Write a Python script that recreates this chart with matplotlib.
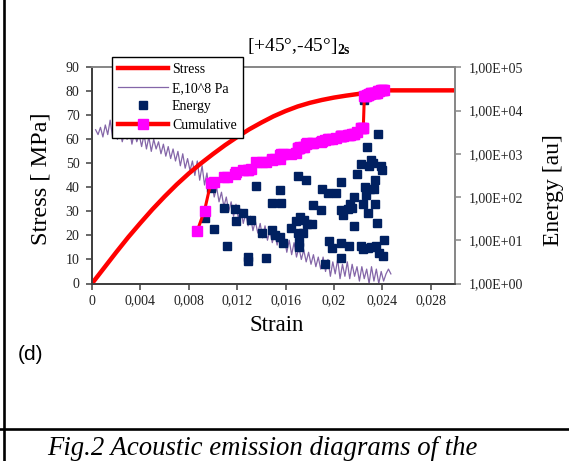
import numpy as np
import matplotlib as mpl
mpl.use('Agg')
import matplotlib.pyplot as plt
from matplotlib.lines import Line2D
from matplotlib.ticker import FixedLocator, FuncFormatter, NullLocator

# stress-strain curve
strain = [0, 0.001, 0.002, 0.003, 0.004, 0.005, 0.006, 0.007, 0.008, 0.009,
          0.010, 0.011, 0.012, 0.013, 0.014, 0.015, 0.016, 0.017, 0.018, 0.019,
          0.020, 0.021, 0.022, 0.0226, 0.023, 0.0245, 0.030]
stress = [0, 6.5, 13.0, 19.3, 25.2, 30.9, 36.2, 41.2, 45.8, 50.0,
          53.9, 57.6, 61.0, 64.2, 67.0, 69.6, 71.8, 73.7, 75.2, 76.4,
          77.4, 78.2, 78.9, 79.4, 80.2, 80.4, 80.4]

# modulus E (10^8 Pa), sampled every 0.0002 strain from 0.0003
e_mod = [64, 62, 65, 61, 66, 62, 68, 61, 65, 60, 64, 59, 63, 60, 64, 58, 63, 59, 62, 57,
         62, 56, 61, 55, 60, 56, 59, 54, 58, 53, 57, 52, 56, 51, 55, 49, 54, 48, 52, 47,
         51, 45, 51, 43, 49, 41, 46, 38, 42, 36, 40, 34, 38, 32, 36, 30, 34, 28, 33, 27,
         31, 25, 29, 24, 28, 22, 26, 21, 25, 19, 24, 18, 22, 17, 21, 16, 20, 15, 19, 13,
         18, 12, 17, 11, 15, 10, 14, 9, 13, 8, 12, 7, 11, 6, 11, 5, 10, 3, 9, 4,
         10, 2, 8, 3, 9, 2, 8, 3, 7, 1, 7, 2, 6, 0, 7, 1, 6, 0, 5, 1,
         4, 6, 4]
e_strain = np.linspace(0.0003, 0.0003 + 0.0002 * (len(e_mod) - 1), len(e_mod))

# AE hits: strain and energy [au]
ae_strain = [0.0087, 0.00930, 0.00981, 0.01005, 0.01089, 0.01116, 0.01185, 0.01191,
             0.01251, 0.01290, 0.01293, 0.01317, 0.01353, 0.01407, 0.01437, 0.01485,
             0.01491, 0.01515, 0.01551, 0.01557, 0.01566, 0.01575, 0.01641, 0.01686,
             0.01701, 0.01701, 0.01707, 0.01707, 0.01716, 0.01746, 0.01755, 0.01770,
             0.01776, 0.01815, 0.01827, 0.01896, 0.01899, 0.01926, 0.01950, 0.01956,
             0.01986, 0.02016, 0.02055, 0.02055, 0.02061, 0.02061, 0.02076, 0.02115,
             0.02121, 0.02136, 0.02151, 0.02166, 0.02166, 0.02190, 0.02221, 0.02227,
             0.02236, 0.02242, 0.02251, 0.02257, 0.02266, 0.02272, 0.02278, 0.02278,
             0.02287, 0.02296, 0.02308, 0.02308, 0.02323, 0.02332, 0.02341, 0.02341,
             0.02347, 0.02356, 0.02362, 0.02368, 0.02392, 0.02398, 0.02401, 0.02410]
ae_energy = [16.6, 32, 160, 18.2, 56, 7.4, 54, 28,
             42, 4.2, 3.4, 30, 181, 15, 3.8, 71,
             17, 13, 11.7, 149, 71, 8.8, 19, 28,
             303, 14.5, 7.1, 9.1, 35, 15, 30, 254,
             24, 24, 65, 50, 157, 2.9, 121, 9.8,
             6.5, 121, 224, 50, 3.8, 8.5, 38, 52,
             7.5, 69, 57, 101, 21, 349, 593, 7.4,
             69, 6.2, 17700, 172, 110, 1436, 42, 6.5,
             514, 157, 733, 6.9, 614, 157, 245, 69,
             7.4, 25, 2810, 5, 524, 416, 4.4, 10]

order = np.argsort(ae_strain, kind='stable')
ae_s = np.array(ae_strain)[order]
ae_e = np.array(ae_energy)[order]
cumulative = np.cumsum(ae_e)

serif = 'Liberation Serif'
plt.rcParams['font.family'] = serif
plt.rcParams['mathtext.fontset'] = 'custom'
plt.rcParams['mathtext.rm'] = serif
plt.rcParams['mathtext.bf'] = serif + ':bold'

W, H = 569, 461
fig = plt.figure(figsize=(W / 100, H / 100), dpi=100)
fig.patch.set_facecolor('white')

ax = fig.add_axes([92 / W, 1 - 283.5 / H, (455 - 92) / W, (283.5 - 67.3) / H])
ax2 = ax.twinx()

ax.plot(e_strain, e_mod, color='#8466a8', lw=0.9, zorder=2)
ax.plot(strain, stress, color='#ff0000', lw=3.2, solid_capstyle='butt', zorder=3)

ax2.plot(ae_s, ae_e, ls='none', marker='s', ms=5.8, color='#002060', zorder=3)
ax2.plot(ae_s, cumulative, color='#ff0000', lw=2.2, marker='s', ms=7.5,
         mfc='#ff00ff', mec='#ff00ff', zorder=4)

ax.set_xlim(0, 0.030)
ax.set_ylim(0, 90)
ax2.set_yscale('log')
ax2.set_ylim(1, 1e5)

ax.xaxis.set_major_locator(FixedLocator([0, 0.004, 0.008, 0.012, 0.016, 0.020, 0.024, 0.028]))
ax.xaxis.set_major_formatter(FuncFormatter(lambda v, p: ('%g' % round(v, 4)).replace('.', ',')))
ax.yaxis.set_major_locator(FixedLocator(range(0, 91, 10)))
ax2.yaxis.set_major_locator(FixedLocator([1, 10, 100, 1000, 1e4, 1e5]))
ax2.yaxis.set_minor_locator(NullLocator())
ax2.yaxis.set_major_formatter(FuncFormatter(
    lambda v, p: '1,00E+%02d' % int(round(np.log10(v)))))

dark = '#404040'
grey = '#888888'
for a in (ax, ax2):
    a.spines['left'].set_color(dark)
    a.spines['bottom'].set_color(dark)
    a.spines['top'].set_color(grey)
    a.spines['right'].set_color(grey)
    for s in a.spines.values():
        s.set_linewidth(1.3)
ax.tick_params(axis='both', direction='out', length=4, width=1.1, color=dark,
               labelsize=10, labelcolor='#222222')
ax.tick_params(axis='y', pad=5)
ax.tick_params(axis='x', pad=4)
ax2.tick_params(axis='y', direction='out', length=4, width=1.1, color=grey,
                labelsize=10, labelcolor='#222222', pad=6)

# legend
handles = [
    Line2D([], [], color='#ff0000', lw=3.2),
    Line2D([], [], color='#8466a8', lw=0.9),
    Line2D([], [], ls='none', marker='s', ms=5.8, color='#002060'),
    Line2D([], [], color='#ff0000', lw=3.2, marker='s', ms=7, mfc='#ff00ff', mec='#ff00ff'),
]
labels = ['Stress', 'E,10^8 Pa', 'Energy', 'Cumulative']
leg = ax2.legend(handles, labels, loc='upper left',
                 bbox_to_anchor=(112 / W, 1 - 57.3 / H), bbox_transform=fig.transFigure,
                 fontsize=10, frameon=True, fancybox=False, edgecolor='black',
                 framealpha=1, handlelength=3.6, handletextpad=0.3,
                 labelspacing=0.4, borderpad=0.42, borderaxespad=0, numpoints=1)
leg.get_frame().set_linewidth(1.0)
leg.set_zorder(10)

# texts
fig.text(299 / W, 1 - 47 / H, r'[+45°,-45°]$_\mathbf{2s}$', ha='center', va='center',
         fontsize=14)
fig.text(41 / W, 1 - 179 / H, 'Stress [ MPa]', rotation=90, ha='center', va='center',
         fontsize=17.5)
fig.text(554 / W, 1 - 190 / H, 'Energy [au]', rotation=90, ha='center', va='center',
         fontsize=17)
fig.text(276.5 / W, 1 - 325 / H, 'Strain', ha='center', va='center', fontsize=16.5)
fig.text(18 / W, 1 - 354 / H, '(d)', ha='left', va='center', fontsize=15,
         family='Liberation Sans')
fig.text(47 / W, 1 - 455 / H, 'Fig.2 Acoustic emission diagrams of the', ha='left',
         va='baseline', fontsize=19.3, style='italic')

# page border lines
fig.add_artist(Line2D([3.5 / W, 3.5 / W], [0, 1], transform=fig.transFigure,
                      color='black', lw=1.9))
fig.add_artist(Line2D([0, 1], [1 - 429 / H, 1 - 429 / H], transform=fig.transFigure,
                      color='black', lw=1.9))

fig.savefig('out.png', dpi=100, facecolor='white')
